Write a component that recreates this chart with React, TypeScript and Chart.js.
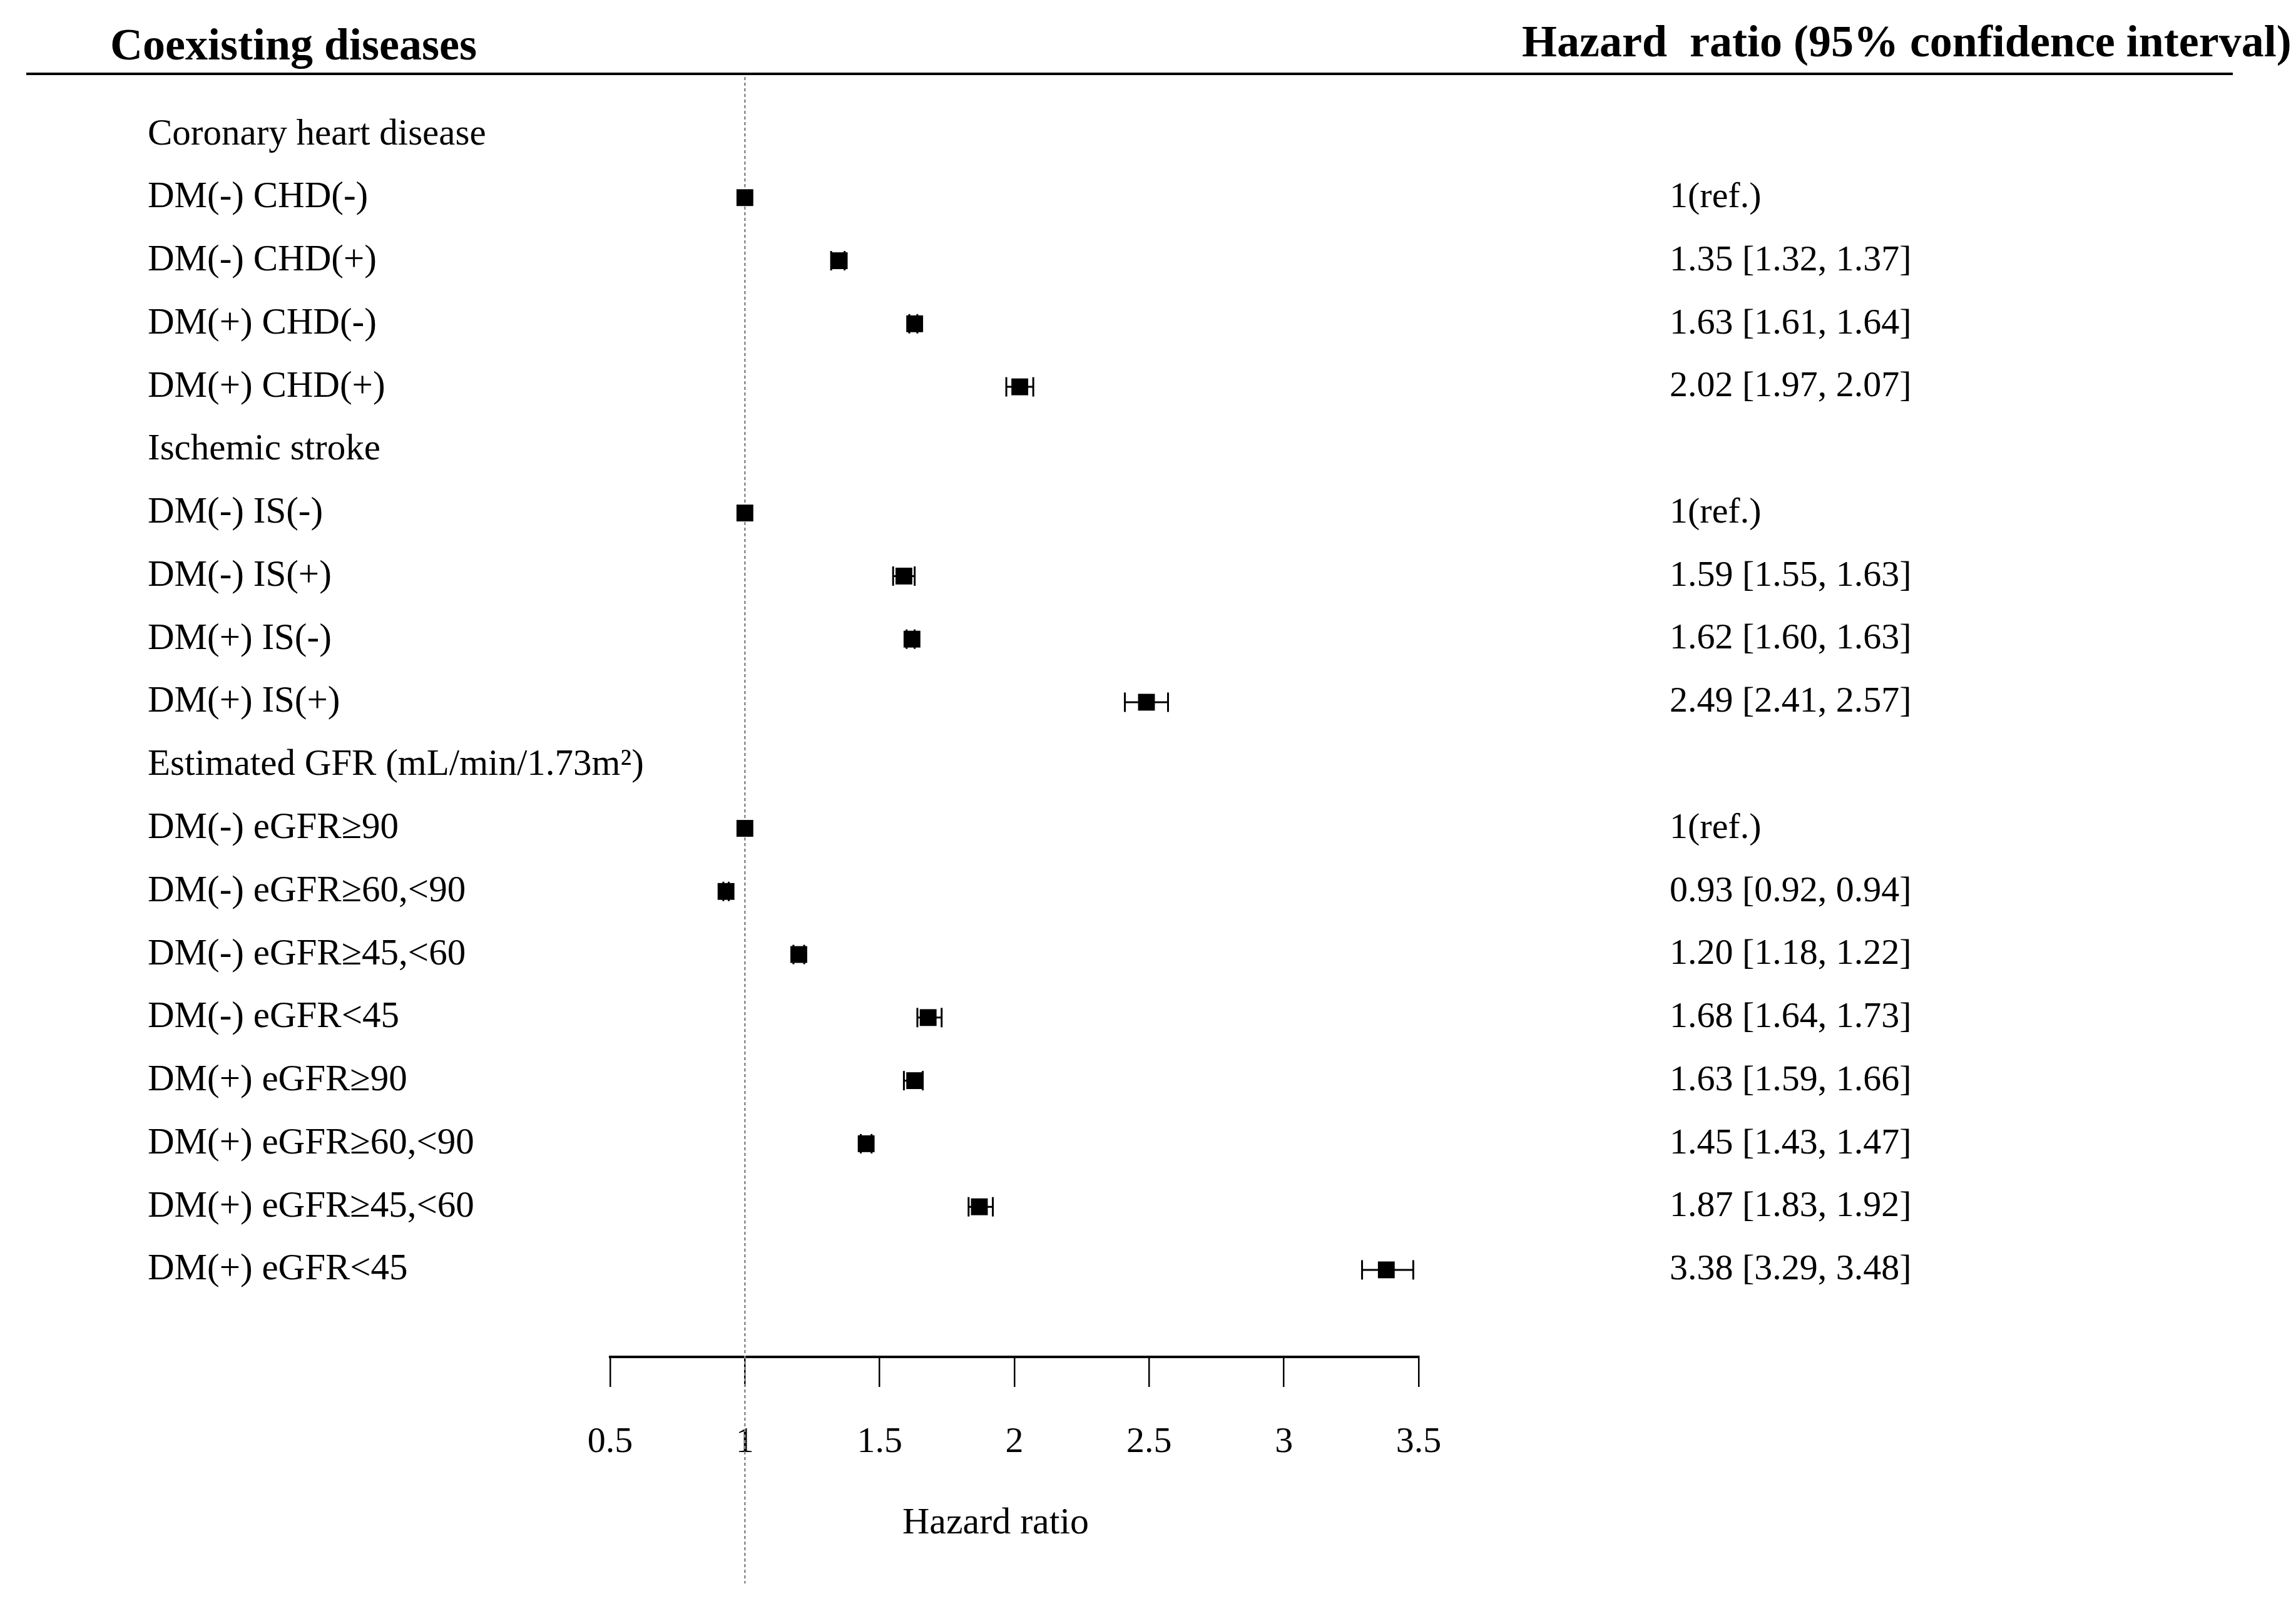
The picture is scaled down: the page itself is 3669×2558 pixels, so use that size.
import React, { useEffect, useRef } from "react";
import { Chart, registerables } from "chart.js";

Chart.register(...registerables);

// ---- data ----
const rowLabels: string[] = [
  "Coronary heart disease",
  "DM(-) CHD(-)",
  "DM(-) CHD(+)",
  "DM(+) CHD(-)",
  "DM(+) CHD(+)",
  "Ischemic stroke",
  "DM(-) IS(-)",
  "DM(-) IS(+)",
  "DM(+) IS(-)",
  "DM(+) IS(+)",
  "Estimated GFR (mL/min/1.73m\u00B2)",
  "DM(-) eGFR\u226590",
  "DM(-) eGFR\u226560,<90",
  "DM(-) eGFR\u226545,<60",
  "DM(-) eGFR<45",
  "DM(+) eGFR\u226590",
  "DM(+) eGFR\u226560,<90",
  "DM(+) eGFR\u226545,<60",
  "DM(+) eGFR<45",
];
const hazardRatios: (number | null)[] = [
  null, 1, 1.35, 1.63, 2.02,
  null, 1, 1.59, 1.62, 2.49,
  null, 1, 0.93, 1.2, 1.68, 1.63, 1.45, 1.87, 3.38,
];
const ciLower: (number | null)[] = [
  null, null, 1.32, 1.61, 1.97,
  null, null, 1.55, 1.6, 2.41,
  null, null, 0.92, 1.18, 1.64, 1.59, 1.43, 1.83, 3.29,
];
const ciUpper: (number | null)[] = [
  null, null, 1.37, 1.64, 2.07,
  null, null, 1.63, 1.63, 2.57,
  null, null, 0.94, 1.22, 1.73, 1.66, 1.47, 1.92, 3.48,
];
const xTickValues: number[] = [0.5, 1, 1.5, 2, 2.5, 3, 3.5];
const referenceValue = 1;
const headerLeft = "Coexisting diseases";
const headerRight = "Hazard  ratio (95% confidence interval)";
const axisTitle = "Hazard ratio";

const hrText: string[] = hazardRatios.map((v, i) => {
  if (v === null) return "";
  const lo = ciLower[i];
  const hi = ciUpper[i];
  if (lo === null || hi === null) return `${v}(ref.)`;
  return `${v.toFixed(2)} [${lo.toFixed(2)}, ${hi.toFixed(2)}]`;
});

// ---- layout ----
const W = 3653;
const H = 2542;
const FONT = '"Liberation Serif", "Times New Roman", serif';

export default function App() {
  const ref = useRef<HTMLCanvasElement | null>(null);

  useEffect(() => {
    if (!ref.current) return;
    Chart.defaults.font.family = FONT;
    Chart.defaults.color = "#000";

    const ciDatasets = hazardRatios
      .map((v, i) => ({ v, i }))
      .filter(({ i }) => ciLower[i] !== null && ciUpper[i] !== null)
      .map(({ i }) => ({
        type: "line" as const,
        data: [
          { x: ciLower[i] as number, y: i },
          { x: ciUpper[i] as number, y: i },
        ],
        showLine: true,
        borderColor: "#000",
        borderWidth: 3,
        pointStyle: "line" as const,
        pointRotation: 90,
        pointRadius: 15.5,
        pointBorderWidth: 3,
        pointBorderColor: "#000",
        pointBackgroundColor: "#000",
        clip: false as const,
      }));

    const markerData = hazardRatios
      .map((v, i) => (v === null ? null : { x: v, y: i }))
      .filter((p) => p !== null) as { x: number; y: number }[];

    const headerPlugin = {
      id: "header",
      afterDraw(chart: any) {
        const ctx = chart.ctx;
        ctx.save();
        ctx.fillStyle = "#000";
        ctx.textBaseline = "alphabetic";
        ctx.textAlign = "left";
        ctx.font = `bold 72px ${FONT}`;
        ctx.fillText(headerLeft, 168, 87);
        ctx.fillText(headerRight, 2424, 82);
        ctx.strokeStyle = "#000";
        ctx.lineWidth = 4;
        ctx.beginPath();
        ctx.moveTo(34, 110);
        ctx.lineTo(3560, 110);
        ctx.stroke();
        ctx.restore();
      },
    };

    const refLinePlugin = {
      id: "refLine",
      beforeDatasetsDraw(chart: any) {
        const ctx = chart.ctx;
        const xs = chart.scales.x;
        const px = xs.getPixelForValue(referenceValue);
        ctx.save();
        ctx.strokeStyle = "#8a8a8a";
        ctx.lineWidth = 2.5;
        ctx.setLineDash([5, 4]);
        ctx.beginPath();
        ctx.moveTo(px, chart.chartArea.top);
        ctx.lineTo(px, 2522);
        ctx.stroke();
        ctx.restore();
      },
    };

    // axis title is drawn slightly left of the axis centre, as in the reference
    const axisTitlePlugin = {
      id: "axisTitle",
      afterDraw(chart: any) {
        const ctx = chart.ctx;
        const xs = chart.scales.x;
        const cx = (xs.left + xs.right) / 2 - 30;
        ctx.save();
        ctx.fillStyle = "#000";
        ctx.font = `60px ${FONT}`;
        ctx.textAlign = "center";
        ctx.textBaseline = "middle";
        ctx.fillText(axisTitle, cx, xs.bottom - 116);
        ctx.restore();
      },
    };

    const rowTicks = (scale: any) => {
      scale.ticks = rowLabels.map((_, i) => ({ value: i }));
    };

    const chart = new Chart(ref.current, {
      type: "scatter",
      data: {
        datasets: [
          ...ciDatasets,
          {
            type: "scatter" as const,
            data: markerData,
            pointStyle: "rect",
            pointRadius: 19,
            pointBorderWidth: 0,
            backgroundColor: "#000",
            borderColor: "#000",
            clip: false as const,
          },
        ] as any,
      },
      plugins: [refLinePlugin, headerPlugin, axisTitlePlugin],
      options: {
        animation: false,
        responsive: true,
        maintainAspectRatio: false,
        devicePixelRatio: 1,
        layout: { padding: { left: 228, top: 115, right: 0, bottom: 0 } },
        plugins: { legend: { display: false }, tooltip: { enabled: false } },
        scales: {
          x: {
            type: "linear",
            position: "bottom",
            min: 0.5,
            max: 3.5,
            afterBuildTicks: (scale: any) => {
              scale.ticks = xTickValues.map((v) => ({ value: v }));
            },
            ticks: {
              font: { size: 58 },
              color: "#000",
              padding: 54,
              autoSkip: false,
              maxRotation: 0,
              callback: (v: any) => String(v),
            },
            grid: {
              drawOnChartArea: false,
              drawTicks: true,
              tickLength: 48,
              color: "#000",
              lineWidth: 2.5,
            },
            border: { display: true, width: 4, color: "#000" },
            title: { display: false },
            afterFit: (scale: any) => {
              scale.height = 382;
            },
          },
          y: {
            type: "linear",
            position: "left",
            min: -0.913,
            max: 19.38,
            reverse: true,
            afterBuildTicks: rowTicks,
            ticks: {
              autoSkip: false,
              mirror: true,
              crossAlign: "near",
              padding: -739,
              font: { size: 59 },
              color: "#000",
              callback: (v: any) => rowLabels[v as number] ?? "",
            },
            grid: { display: false, drawTicks: false },
            border: { display: false },
            afterFit: (scale: any) => {
              scale.width = 739;
              scale.paddingTop = 0;
              scale.paddingBottom = 0;
            },
          },
          y2: {
            type: "linear",
            position: "right",
            min: -0.913,
            max: 19.38,
            reverse: true,
            afterBuildTicks: rowTicks,
            ticks: {
              autoSkip: false,
              crossAlign: "near",
              padding: 401,
              font: { size: 58 },
              color: "#000",
              callback: (v: any) => hrText[v as number] ?? "",
            },
            grid: { display: false, drawTicks: false },
            border: { display: false },
            afterFit: (scale: any) => {
              scale.width = 1394;
              scale.paddingTop = 0;
              scale.paddingBottom = 0;
            },
          },
        },
      } as any,
    });

    return () => chart.destroy();
  }, []);

  return (
    <div style={{ width: W, height: H, position: "relative", background: "#fff" }}>
      <canvas ref={ref} />
    </div>
  );
}
